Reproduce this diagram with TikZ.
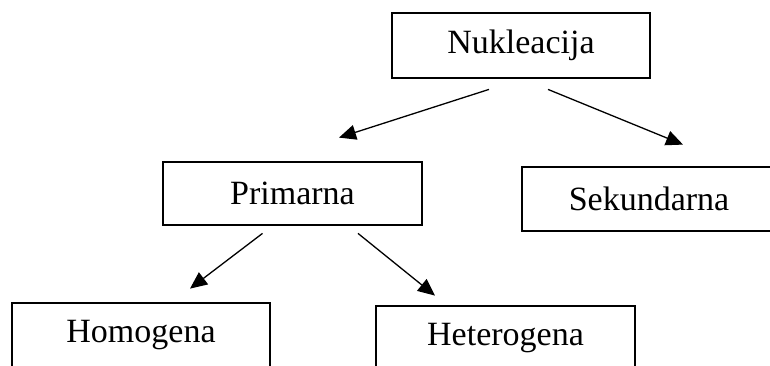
\documentclass[tikz,border=0pt]{standalone}
\usepackage{fontspec}
\setmainfont{Liberation Serif}
\usetikzlibrary{arrows.meta}

\begin{document}
\begin{tikzpicture}[x=0.5pt,y=-0.5pt,
  box/.style={draw,line width=1.4pt,font=\fontsize{17}{20}\selectfont,inner sep=0pt},
  arr/.style={line width=0.65pt,-{Triangle[length=8.5pt,width=7.5pt]}}]
 \clip (0,0) rectangle (770,365);
 \node[box,minimum width=129pt,minimum height=32.5pt] (nuk) at (521,45.5) {Nukleacija};
 \node[box,minimum width=129.5pt,minimum height=31.5pt] (pri) at (292.5,193.5) {Primarna};
 \node[box,minimum width=127pt,minimum height=32pt] (sek) at (649,199) {Sekundarna};
 \node[box,minimum width=129pt,minimum height=32pt] (hom) at (141,335) {Homogena};
 \node[box,minimum width=129.5pt,minimum height=32pt] (het) at (505.5,338) {Heterogena};
 \draw[arr] ([shift={(-32,10)}]nuk.south) -- ([shift={(46.5,-23)}]pri.north);
 \draw[arr] ([shift={(27,10)}]nuk.south) -- ([shift={(34,-21)}]sek.north);
 \draw[arr] ([shift={(-30,7)}]pri.south) -- ([shift={(49,-13)}]hom.north);
 \draw[arr] ([shift={(65.5,7)}]pri.south) -- ([shift={(-70.5,-9)}]het.north);
\end{tikzpicture}
\end{document}
